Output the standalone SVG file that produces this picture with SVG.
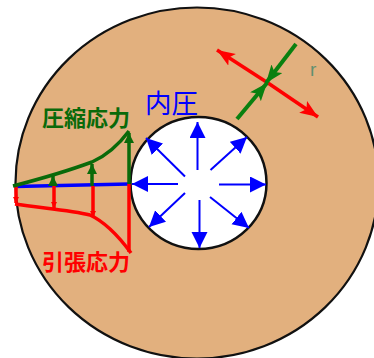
<svg xmlns="http://www.w3.org/2000/svg" width="374" height="358" viewBox="0 0 374 358">
<style>
.t{font-family:"Noto Sans CJK JP","Noto Sans CJK SC",sans-serif}
.b{stroke:#00f;stroke-width:2;fill:none;marker-end:url(#mb)}
.g{stroke:#0a6a0a;stroke-width:3.500;fill:none;marker-end:url(#mg)}
.r{stroke:#f00;stroke-width:3.500;fill:none;marker-end:url(#mr)}
</style>
<defs>
<marker id="mb" markerUnits="userSpaceOnUse" markerWidth="18" markerHeight="18" refX="16" refY="8" orient="auto"><path d="M0 0L16 8L0 16Z" fill="#00f"/></marker>
<marker id="mg" markerUnits="userSpaceOnUse" markerWidth="12" markerHeight="12" refX="10" refY="5" orient="auto"><path d="M0 0L10 5L0 10Z" fill="#0a6a0a"/></marker>
<marker id="mr" markerUnits="userSpaceOnUse" markerWidth="8" markerHeight="8" refX="6" refY="3" orient="auto"><path d="M0 0L6 3L0 6Z" fill="#f00"/></marker>
<marker id="mR" markerUnits="userSpaceOnUse" markerWidth="20" markerHeight="16" refX="18" refY="7" orient="auto"><path d="M0 0L18 7L0 14L4 7Z" fill="#f00"/></marker>
<marker id="mG" markerUnits="userSpaceOnUse" markerWidth="20" markerHeight="16" refX="18" refY="7" orient="auto"><path d="M0 0L18 7L0 14L4 7Z" fill="#0a8010"/></marker>
</defs>
<rect width="374" height="358" fill="#fff"/>
<g id="outer"><ellipse cx="197" cy="183" rx="181.500" ry="175.500" fill="#e2b07e" stroke="#111" stroke-width="2.200"/></g>
<g id="inner"><ellipse cx="198.500" cy="183" rx="68" ry="66" fill="#fff" stroke="#111" stroke-width="2.500"/></g>
<g id="connectors">
<path class="b" d="M197.500 170V122"/>
<path class="b" d="M210.500 170L247 137"/>
<path class="b" d="M219 184.500H266"/>
<path class="b" d="M210 197L249 228"/>
<path class="b" d="M199.500 200V248"/>
<path class="b" d="M185 193L149 227"/>
<path class="b" d="M178 184H132"/>
<path class="b" d="M185 176.500L146 138"/>
<path d="M15 186.500L129 184" stroke="#00f" stroke-width="3.500" fill="none"/>
<path class="r" d="M16 186V203"/>
<path class="r" d="M54 186V208"/>
<path class="r" d="M93 186V217"/>
<path d="M129 184V252" stroke="#f00" stroke-width="3.500" fill="none"/>
<path class="g" d="M53 186V176"/>
<path class="g" d="M92 186V164"/>
<path class="g" d="M129 184V133"/>
<path d="M13 186C40 179 65 172 92 162C108 155 120 143 129 131" stroke="#0a6a0a" stroke-width="3.500" fill="none"/>
<path d="M15 204C40 208 70 210 90 215C105 222 120 238 131 253" stroke="#f00" stroke-width="3.500" fill="none"/>
<path d="M268 83L318 117" stroke="#f00" stroke-width="3.500" fill="none" marker-end="url(#mR)"/>
<path d="M268 83L217 50" stroke="#f00" stroke-width="3.500" fill="none" marker-end="url(#mR)"/>
<path d="M296 44L266 83" stroke="#0a8010" stroke-width="4" fill="none" marker-end="url(#mG)"/>
<path d="M237 119L267 83" stroke="#0a8010" stroke-width="4" fill="none" marker-end="url(#mG)"/>
</g>
<g id="labels">
<text class="t" x="42" y="126" font-size="22" font-weight="700" fill="#0a6a0a">圧縮応力</text>
<text class="t" x="42" y="270" font-size="22" font-weight="700" fill="#f00">引張応力</text>
<text class="t" x="145" y="113" font-size="26.500" fill="#00f">内圧</text>
<text x="310" y="76" font-size="19" fill="#5f8f70" font-family="Liberation Sans, sans-serif">r</text>
</g>
</svg>
